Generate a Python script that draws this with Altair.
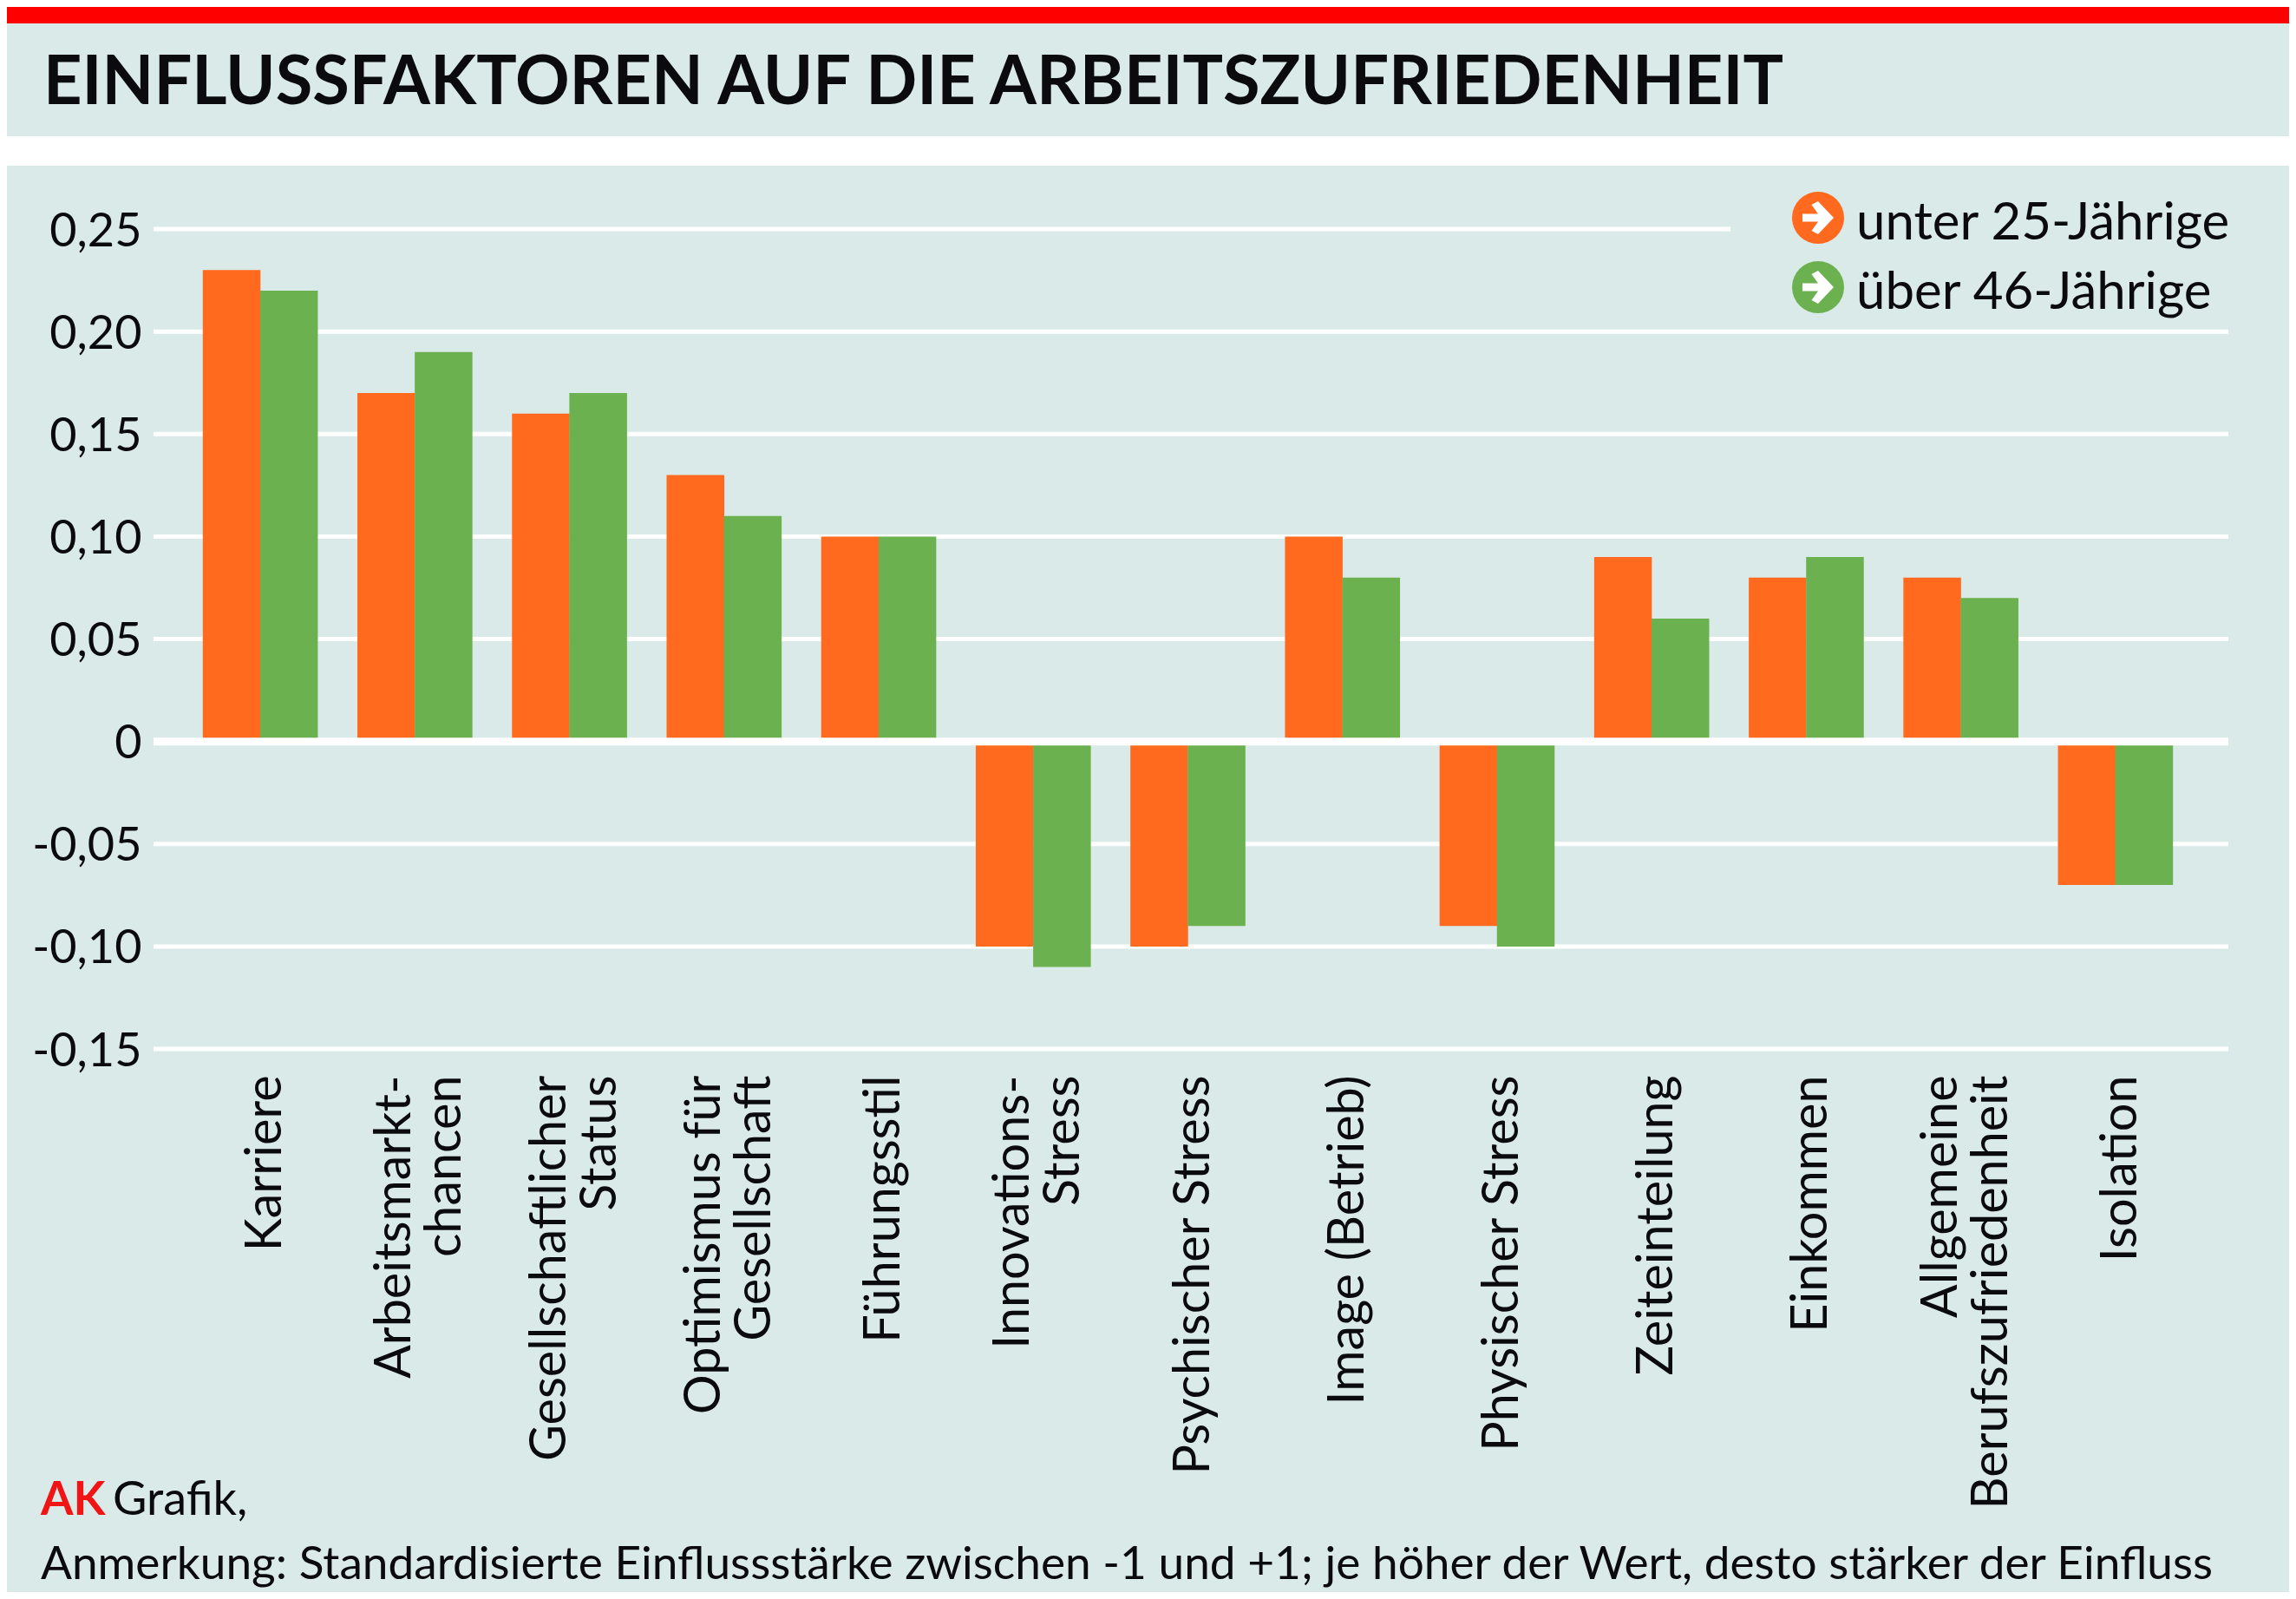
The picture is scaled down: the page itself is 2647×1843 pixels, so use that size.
import altair as alt
import pandas as pd

categories = ["Karriere", "Arbeitsmarkt-|chancen", "Gesellschaftlicher|Status", "Optimismus für|Gesellschaft",
              "Führungsstil", "Innovations-|Stress", "Psychischer Stress", "Image (Betrieb)", "Physischer Stress",
              "Zeiteinteilung", "Einkommen", "Allgemeine|Berufszufriedenheit", "Isolation"]
young = [0.23, 0.17, 0.16, 0.13, 0.10, -0.10, -0.10, 0.10, -0.09, 0.09, 0.08, 0.08, -0.07]
old = [0.22, 0.19, 0.17, 0.11, 0.10, -0.11, -0.09, 0.08, -0.10, 0.06, 0.09, 0.07, -0.07]
series = ["unter 25-Jährige", "über 46-Jährige"]
y_ticks = [-0.15, -0.10, -0.05, 0, 0.05, 0.10, 0.15, 0.20, 0.25]
title_text = "EINFLUSSFAKTOREN AUF DIE ARBEITSZUFRIEDENHEIT"
note_text = "Anmerkung: Standardisierte Einflussstärke zwischen -1 und +1; je höher der Wert, desto stärker der Einfluss"

PALE = "#DAEAE8"
ORANGE = "#FF6A1F"
GREEN = "#6CB14F"
INK = "#0B0B0D"
FONT = "Lato"
PAD_L, PAD_T = 169, 256

df = pd.DataFrame(
    [{"cat": c, "series": series[0], "value": v} for c, v in zip(categories, young)]
    + [{"cat": c, "series": series[1], "value": v} for c, v in zip(categories, old)]
)

one = alt.Data(values=[{}])


def band(y0, y2, color, x0=-PAD_L, x2=2462):
    return alt.Chart(one).mark_rect(color=color).encode(
        x=alt.value(x0), x2=alt.value(x2), y=alt.value(y0), y2=alt.value(y2))


def label(text, x, y, size, bold=False, color=INK):
    return alt.Chart(alt.Data(values=[{"t": text}])).mark_text(
        font=FONT, fontSize=size, fontWeight="bold" if bold else "normal", color=color,
        align="left", baseline="alphabetic").encode(
        text="t:N", x=alt.value(x - 177), y=alt.value(y - 264))


x_scale = alt.Scale(domain=categories, range=[34, 2351], paddingInner=0.258, paddingOuter=0.129, round=False)
y_scale = alt.Scale(domain=[-0.15, 0.25], nice=False)

grid = alt.Chart(alt.Data(values=[{"v": t} for t in y_ticks])).mark_rule(color="white", size=5).encode(
    y=alt.Y("v:Q", scale=y_scale, title=None,
            axis=alt.Axis(values=y_ticks, domain=False, ticks=False, labelPadding=14, labelFont=FONT,
                          labelFontSize=54, labelColor=INK, grid=False, labelOffset=3,
                          labelExpr="datum.value == 0 ? '0' : (datum.value < 0 ? '-' : '') + "
                                    "replace(format(abs(datum.value), '.2f'), '.', ',')")),
    x=alt.value(0), x2=alt.value(2392))

bars = alt.Chart(df).mark_bar(size=66.5).encode(
    x=alt.X("cat:N", sort=categories, scale=x_scale, title=None,
            axis=alt.Axis(domain=False, ticks=False, labelAngle=270, labelAlign="right", labelBaseline="middle",
                          labelPadding=30, labelFont=FONT, labelFontSize=57.5, labelColor=INK, labelLimit=1200,
                          labelOverlap=False, labelLineHeight=58,
                          labelOffset={"condition": {"test": "indexof(datum.label, '|') >= 0", "value": -22},
                                       "value": 7},
                          labelExpr="split(datum.label, '|')")),
    xOffset=alt.XOffset("series:N", sort=series),
    y=alt.Y("value:Q", scale=y_scale, title=None),
    color=alt.Color("series:N", scale=alt.Scale(domain=series, range=[ORANGE, GREEN]), legend=None),
)

zero = alt.Chart(alt.Data(values=[{"v": 0}])).mark_rule(color="white", size=9).encode(
    y=alt.Y("v:Q", scale=y_scale), x=alt.value(0), x2=alt.value(2392))

ARROW = "M-0.6,-0.15 L0.0,-0.15 L-0.25,-0.5 L0.0,-0.63 L0.6,0 L0.0,0.63 L-0.25,0.5 L0.0,0.15 L-0.6,0.15 Z"


def dot(y, color):
    c = alt.Chart(one).mark_point(shape="circle", filled=True, opacity=1, size=3600, color=color).encode(
        x=alt.value(2096 - 177), y=alt.value(y - 264))
    a = alt.Chart(one).mark_point(shape=ARROW, filled=True, opacity=1, size=3600, color="white").encode(
        x=alt.value(2096 - 177), y=alt.value(y - 264))
    return c + a


layers = [
    band(-PAD_T, -237, "#FF0000"),
    band(-107, -73, "white"),
    grid,
    bars,
    zero,
    band(-60, 30, PALE, 1995 - 177, 2392),
    dot(251, ORANGE), dot(331, GREEN),
    label(series[0], 2140, 276, 60),
    label(series[1], 2140, 356, 60),
    label(title_text, 50, 120, 77.6, bold=True),
    label("AK", 47, 1746, 54, bold=True, color="#F01414"),
    label("Grafik,", 130, 1746, 54),
    label(note_text, 47, 1820, 53.2),
]

chart = alt.layer(*layers).resolve_scale(x="shared", y="shared", color="independent").properties(
    width=2392, height=945,
    padding={"left": PAD_L, "top": PAD_T, "right": 70, "bottom": 626},
    autosize=alt.AutoSizeParams(type="none"),
    background=PALE,
).configure_view(stroke=None)

chart.save("out.html", embed_options={"renderer": "svg", "actions": False})
